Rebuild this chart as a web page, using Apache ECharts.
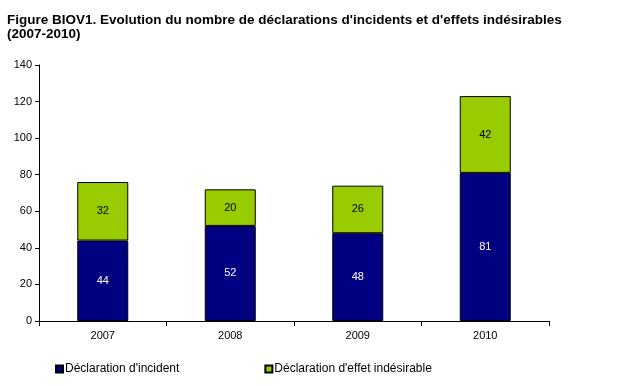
<!DOCTYPE html>
<html><head><meta charset="utf-8">
<script src="https://cdn.jsdelivr.net/npm/echarts@6/dist/echarts.min.js"></script>
<style>html,body{margin:0;padding:0;background:#fff}#c{width:622px;height:386px}</style>
</head><body><div id="c"></div>
<script>
const categories = ['2007', '2008', '2009', '2010'];
const incidents = [44, 52, 48, 81];
const effets = [32, 20, 26, 42];
const seriesNames = ["Déclaration d'incident", "Déclaration d'effet indésirable"];
const titleText = "Figure BIOV1. Evolution du nombre de déclarations d'incidents et d'effets indésirables\n(2007-2010)";

const chart = echarts.init(document.getElementById('c'), null, {renderer: 'canvas'});
const font = 'Arial, "Liberation Sans", sans-serif';
chart.setOption({
  animation: false,
  title: {
    text: titleText, left: 2, top: 8,
    textStyle: {fontFamily: font, fontSize: 13.5, fontWeight: 'bold', color: '#000', lineHeight: 14}
  },
  grid: {left: 39, right: 73, top: 65, bottom: 65, containLabel: false},
  legend: {
    bottom: 6, left: 50, itemWidth: 7, itemHeight: 7, itemGap: 85,
    icon: 'rect',
    textStyle: {fontFamily: font, fontSize: 12, color: '#000', padding: [0, 0, 0, -3]},
    data: seriesNames
  },
  xAxis: {
    type: 'category', data: categories,
    axisLine: {lineStyle: {color: '#000', width: 1}},
    axisTick: {show: true, length: 5, lineStyle: {color: '#000'}},
    axisLabel: {fontFamily: font, fontSize: 11, color: '#000', margin: 9}
  },
  yAxis: {
    type: 'value', min: 0, max: 140, interval: 20,
    splitLine: {show: false},
    axisLine: {show: true, lineStyle: {color: '#000', width: 1}},
    axisTick: {show: true, length: 4, lineStyle: {color: '#000'}},
    axisLabel: {fontFamily: font, fontSize: 11, color: '#000', margin: 7}
  },
  series: [
    {
      name: seriesNames[0], type: 'bar', stack: 's', data: incidents, barWidth: '40%',
      itemStyle: {color: '#000080', borderColor: '#000', borderWidth: 1},
      label: {show: true, position: 'inside', color: '#fff', fontFamily: font, fontSize: 11}
    },
    {
      name: seriesNames[1], type: 'bar', stack: 's', data: effets, barWidth: '40%',
      itemStyle: {color: '#99CC00', borderColor: '#000', borderWidth: 1},
      label: {show: true, position: 'inside', color: '#000', fontFamily: font, fontSize: 11}
    }
  ]
});
</script></body></html>
